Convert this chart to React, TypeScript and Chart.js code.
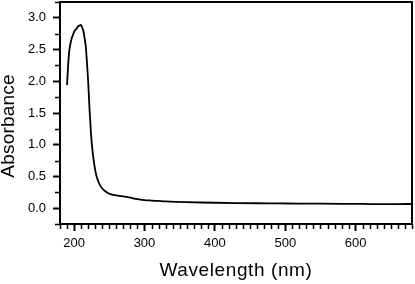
import React, { useEffect, useRef } from "react";
import { Chart, registerables } from "chart.js";

Chart.register(...registerables);

const WAVELENGTHS = [
  190, 191.5, 193, 195, 197, 199, 201, 203.5, 206, 208, 209.5, 211, 213, 215,
  216.5, 218, 220, 222, 224, 226, 228, 230, 232, 234.5, 237, 240, 244, 248,
  252, 258, 264, 270, 276, 282, 288, 294, 300, 310, 320, 330, 345, 360, 380,
  400, 430, 460, 490, 520, 550, 580, 610, 640, 660, 680,
];
const ABSORBANCE = [
  1.94, 2.25, 2.46, 2.6, 2.69, 2.75, 2.8, 2.83, 2.87, 2.88, 2.89, 2.86, 2.8,
  2.68, 2.56, 2.35, 2.0, 1.55, 1.18, 0.92, 0.74, 0.6, 0.5, 0.42, 0.36, 0.31,
  0.27, 0.24, 0.22, 0.205, 0.195, 0.185, 0.175, 0.16, 0.145, 0.135, 0.128,
  0.12, 0.113, 0.106, 0.099, 0.094, 0.089, 0.085, 0.08, 0.077, 0.075, 0.072,
  0.07, 0.068, 0.066, 0.063, 0.064, 0.066,
];
const X_TICKS = [200, 300, 400, 500, 600];
const Y_TICKS = [0, 0.5, 1, 1.5, 2, 2.5, 3];
const X_RANGE = [180, 680];
const Y_RANGE = [-0.25, 3.25];
const X_MINOR_STEP = 10;
const Y_MINOR_STEP = 0.25;
const X_TITLE = "Wavelength (nm)";
const Y_TITLE = "Absorbance";

const FONT = "'Liberation Sans', Arial, Helvetica, sans-serif";

const framePlugin = {
  id: "frameAndMinor",
  afterDraw(chart: any) {
    const ctx = chart.ctx as CanvasRenderingContext2D;
    const { left, right, top, bottom } = chart.chartArea;
    const xs = chart.scales.x;
    const ys = chart.scales.y;
    ctx.save();
    ctx.strokeStyle = "#000";
    ctx.lineWidth = 1.5;
    ctx.beginPath();
    for (let v = X_RANGE[0]; v <= X_RANGE[1] + 1e-6; v += X_MINOR_STEP) {
      if (Math.abs(v % 100) < 1e-6) continue;
      const px = Math.round(xs.getPixelForValue(v)) + 0.5;
      ctx.moveTo(px, bottom);
      ctx.lineTo(px, bottom + 5);
    }
    for (let v = Y_RANGE[0]; v <= Y_RANGE[1] + 1e-6; v += Y_MINOR_STEP) {
      if (Math.abs(v * 2 - Math.round(v * 2)) < 1e-6) continue;
      const py = Math.round(ys.getPixelForValue(v)) + 0.5;
      ctx.moveTo(left, py);
      ctx.lineTo(left - 5, py);
    }
    ctx.stroke();
    ctx.lineWidth = 2;
    ctx.strokeRect(left, top, right - left, bottom - top);
    ctx.fillStyle = "#000";
    ctx.font = `19px ${FONT}`;
    (ctx as any).letterSpacing = "0.6px";
    ctx.textAlign = "center";
    ctx.textBaseline = "middle";
    ctx.fillText(X_TITLE, (left + right) / 2, 271);
    ctx.translate(9, 126);
    ctx.rotate(-Math.PI / 2);
    (ctx as any).letterSpacing = "0.2px";
    ctx.fillText(Y_TITLE, 0, 0);
    ctx.restore();
  },
};

export default function App() {
  const ref = useRef<HTMLCanvasElement | null>(null);
  useEffect(() => {
    document.body.style.margin = "0";
    const canvas = ref.current!;
    const chart = new Chart(canvas, {
      type: "line",
      data: {
        datasets: [
          {
            data: WAVELENGTHS.map((x, i) => ({ x, y: ABSORBANCE[i] })),
            borderColor: "#000",
            borderWidth: 1.8,
            pointRadius: 0,
            cubicInterpolationMode: "monotone",
            fill: false,
          },
        ],
      },
      options: {
        animation: false,
        responsive: false,
        devicePixelRatio: 1,
        layout: { padding: { top: 2, right: 3, left: 0, bottom: 0 } },
        plugins: {
          legend: { display: false },
          tooltip: { enabled: false },
        },
        scales: {
          x: {
            type: "linear",
            min: X_RANGE[0],
            max: X_RANGE[1],
            afterBuildTicks: (s: any) => {
              s.ticks = X_TICKS.map((v) => ({ value: v }));
            },
            afterFit: (s: any) => {
              s.height = 60;
              s.paddingLeft = 0;
              s.paddingRight = 0;
            },
            border: { display: false },
            grid: {
              drawOnChartArea: false,
              drawTicks: true,
              tickLength: 7,
              tickWidth: 2,
              tickColor: "#000",
            },
            ticks: {
              color: "#000",
              font: { family: FONT, size: 13 },
              padding: 5,
              maxRotation: 0,
              callback: (v: any) => String(v),
            },
          },
          y: {
            type: "linear",
            min: Y_RANGE[0],
            max: Y_RANGE[1],
            afterBuildTicks: (s: any) => {
              s.ticks = Y_TICKS.map((v) => ({ value: v }));
            },
            afterFit: (s: any) => {
              s.width = 60;
              s.paddingTop = 0;
              s.paddingBottom = 0;
            },
            border: { display: false },
            grid: {
              drawOnChartArea: false,
              drawTicks: true,
              tickLength: 7,
              tickWidth: 2,
              tickColor: "#000",
            },
            ticks: {
              color: "#000",
              font: { family: FONT, size: 13 },
              padding: 7,
              callback: (v: any) => Number(v).toFixed(1),
            },
          },
        },
      },
      plugins: [framePlugin],
    } as any);
    return () => chart.destroy();
  }, []);
  return (
    <div style={{ position: "absolute", left: 0, top: 0, width: 415, height: 284 }}>
      <canvas ref={ref} width={415} height={284} style={{ display: "block" }} />
    </div>
  );
}
